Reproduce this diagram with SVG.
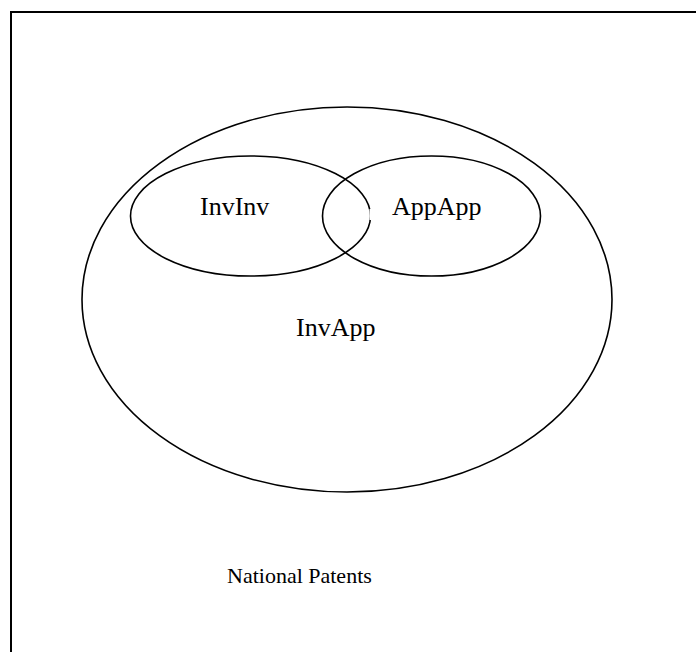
<svg xmlns="http://www.w3.org/2000/svg" width="696" height="652" viewBox="0 0 696 652">
<style>
.shape{fill:none;stroke:#000;stroke-width:1.6}
.lbl{font-family:"Liberation Serif","Times New Roman",serif;font-size:26px;fill:#000}
</style>
<rect x="0" y="0" width="696" height="652" fill="#fff"/>
<g id="frame"><rect x="11" y="12" width="720" height="700" fill="none" stroke="#000" stroke-width="2"/></g>
<g id="national">
<ellipse class="shape" cx="347" cy="299.5" rx="265" ry="192.5"/>
<text class="lbl" x="296" y="336">InvApp</text>
<text class="lbl" x="227" y="583" style="font-size:22px">National Patents</text>
</g>
<g id="invinv">
<ellipse class="shape" cx="250.5" cy="216" rx="120" ry="60"/>
<text class="lbl" x="200" y="215">InvInv</text>
</g>
<g id="appapp">
<ellipse class="shape" cx="431.5" cy="216" rx="109" ry="60"/>
<rect x="369.5" y="209" width="3" height="11" fill="#fff"/>
<text class="lbl" x="392" y="215">AppApp</text>
</g>
<g id="connectors"/>
</svg>
